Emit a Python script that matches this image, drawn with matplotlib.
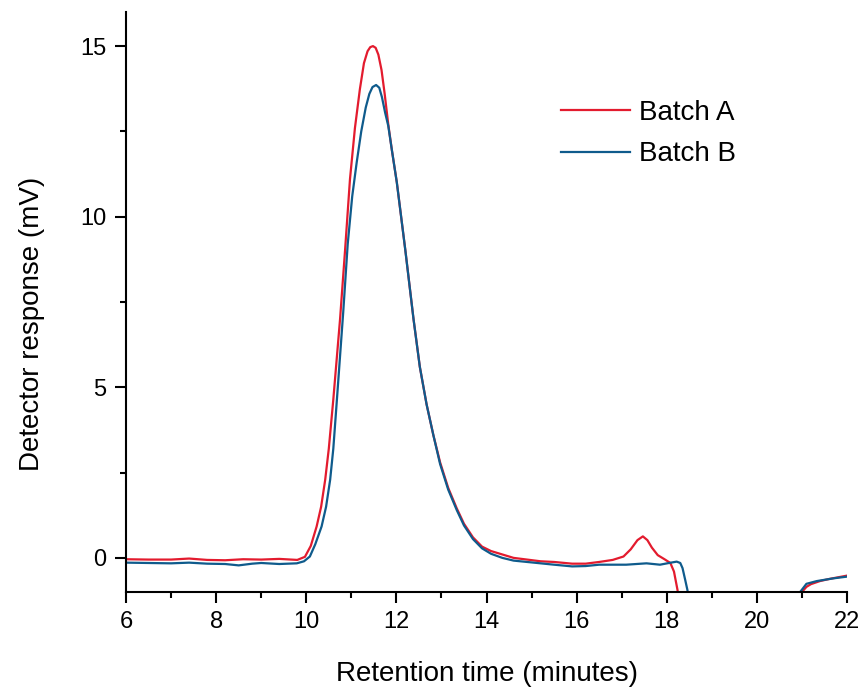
import matplotlib
matplotlib.use("Agg")
from matplotlib import pyplot as plt
from matplotlib.ticker import MultipleLocator

plt.rcParams['font.family'] = ['Liberation Sans', 'DejaVu Sans']

# Batch A (red)
timeA = [6.0, 6.5, 7.0, 7.4, 7.8, 8.2, 8.6, 9.0, 9.4, 9.8, 9.97, 10.1, 10.23, 10.33,
         10.42, 10.5, 10.6, 10.75, 10.86, 10.97, 11.08, 11.19, 11.28, 11.36, 11.42,
         11.48, 11.54, 11.6, 11.67, 11.74, 11.82, 11.9, 12.01, 12.2, 12.38, 12.52,
         12.67, 12.82, 12.97, 13.15, 13.34, 13.5, 13.7, 13.9, 14.1, 14.35, 14.6, 14.9,
         15.2, 15.5, 15.9, 16.2, 16.5, 16.8, 17.04, 17.2, 17.35, 17.47, 17.57, 17.67,
         17.8, 17.95, 18.08, 18.16, 18.24, 18.3, 20.95, 21.0, 21.1, 21.2, 21.4, 21.6,
         21.8, 22.0]
respA = [-0.04, -0.05, -0.05, -0.02, -0.06, -0.07, -0.04, -0.05, -0.03, -0.06, 0.03,
         0.35, 0.92, 1.5, 2.29, 3.2, 4.64, 7.0, 9.0, 11.1, 12.6, 13.74, 14.5, 14.85,
         14.97, 15.0, 14.95, 14.75, 14.3, 13.6, 12.7, 11.95, 11.0, 9.0, 7.0, 5.6, 4.5,
         3.6, 2.8, 2.05, 1.45, 1.0, 0.6, 0.33, 0.2, 0.1, 0.0, -0.05, -0.1, -0.12,
         -0.17, -0.17, -0.12, -0.06, 0.04, 0.25, 0.52, 0.63, 0.52, 0.3, 0.08, -0.04,
         -0.15, -0.4, -0.95, -2.5, -2.5, -1.0, -0.85, -0.77, -0.68, -0.62, -0.57, -0.52]

# Batch B (blue)
timeB = [6.0, 6.5, 7.0, 7.4, 7.8, 8.2, 8.5, 8.8, 9.0, 9.4, 9.79, 9.95, 10.08, 10.2,
         10.34, 10.44, 10.53, 10.6, 10.68, 10.82, 10.92, 11.02, 11.12, 11.22, 11.32,
         11.4, 11.47, 11.55, 11.62, 11.68, 11.75, 11.82, 11.9, 12.01, 12.2, 12.38,
         12.52, 12.67, 12.82, 12.97, 13.15, 13.34, 13.5, 13.7, 13.9, 14.1, 14.35, 14.6,
         14.9, 15.2, 15.5, 15.9, 16.2, 16.5, 16.8, 17.1, 17.55, 17.85, 18.05, 18.22,
         18.3, 18.35, 18.41, 18.46, 18.52, 20.9, 20.96, 21.1, 21.33, 21.7, 22.0]
respB = [-0.14, -0.15, -0.16, -0.14, -0.17, -0.18, -0.22, -0.17, -0.15, -0.18, -0.16,
         -0.1, 0.04, 0.4, 0.92, 1.5, 2.29, 3.2, 4.64, 7.2, 9.2, 10.6, 11.6, 12.5, 13.2,
         13.6, 13.8, 13.86, 13.78, 13.5, 13.05, 12.66, 11.95, 11.0, 9.0, 7.0, 5.6, 4.5,
         3.6, 2.75, 2.0, 1.4, 0.95, 0.55, 0.28, 0.12, 0.0, -0.08, -0.12, -0.16, -0.2,
         -0.25, -0.24, -0.2, -0.2, -0.2, -0.16, -0.2, -0.15, -0.11, -0.15, -0.3,
         -0.65, -0.95, -2.5, -2.5, -1.0, -0.76, -0.68, -0.6, -0.55]

fig = plt.figure(figsize=(8.62, 6.89), dpi=100)
ax = fig.add_axes([0.1462, 0.1408, 0.8364, 0.8418])

ax.plot(timeA, respA, color="#e31b2e", lw=1.6, label="Batch A")
ax.plot(timeB, respB, color="#0f5b8c", lw=1.6, label="Batch B")

ax.set_xlim(6, 22)
ax.set_ylim(-1, 16)
ax.xaxis.set_major_locator(MultipleLocator(2))
ax.xaxis.set_minor_locator(MultipleLocator(1))
ax.yaxis.set_major_locator(MultipleLocator(5))
ax.yaxis.set_minor_locator(MultipleLocator(2.5))

for s in ["top", "right"]:
    ax.spines[s].set_visible(False)
for s in ["left", "bottom"]:
    ax.spines[s].set_linewidth(1.5)

ax.tick_params(which="major", length=8, width=1.5, labelsize=17, pad=6)
ax.tick_params(which="minor", length=4.5, width=1.5)

ax.set_xlabel("Retention time (minutes)", fontsize=20, labelpad=20)
ax.set_ylabel("Detector response (mV)", fontsize=20)
ax.yaxis.set_label_coords(-0.112, 0.462)

ax.legend(loc="center left", bbox_to_anchor=(0.584, 0.79), frameon=False,
          borderpad=0, fontsize=20, handlelength=2.5, handletextpad=0.3,
          labelspacing=0.55)

fig.savefig("out.png", dpi=100)
